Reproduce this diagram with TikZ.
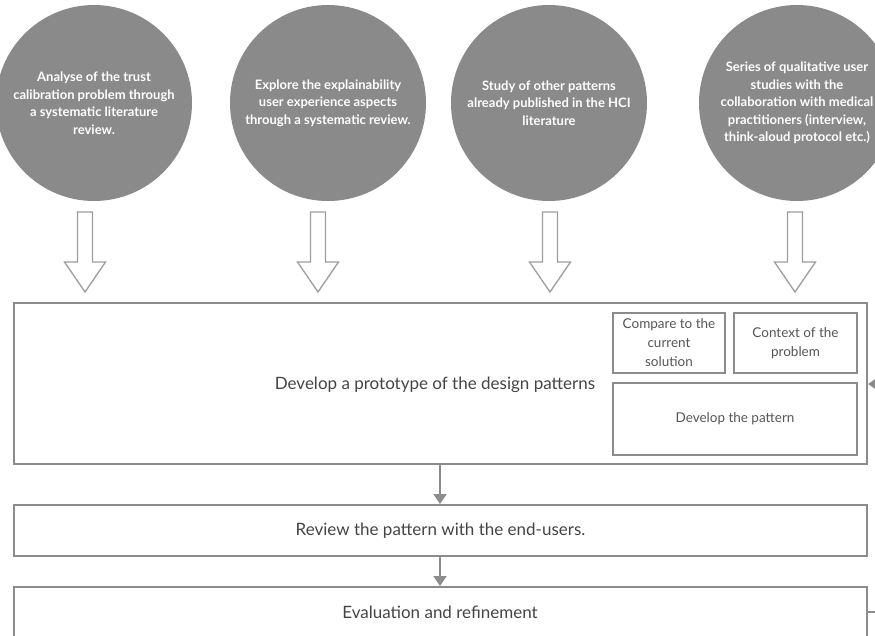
\documentclass[tikz,border=0pt]{standalone}
\usepackage{fontspec}
\setmainfont{Lato}
\usetikzlibrary{arrows.meta}
\definecolor{circgray}{HTML}{8A8A8A}
\definecolor{linegray}{HTML}{8C8C8C}
\definecolor{txtgray}{HTML}{444444}
\definecolor{lighttxt}{HTML}{555555}
\tikzset{
  bubble/.style={circle, fill=circgray, draw=none, minimum size=196pt, inner sep=0pt,
    text=white, align=center, font=\fontsize{13}{17.5}\selectfont\bfseries},
  bigbox/.style={rectangle, draw=linegray, line width=2pt, inner sep=0pt, text=txtgray,
    font=\fontsize{17}{20}\selectfont},
  bigtext/.style={text=txtgray, font=\fontsize{17}{20}\selectfont},
  smallbox/.style={rectangle, draw=linegray, line width=1.5pt, inner sep=0pt, text=lighttxt,
    align=center, font=\fontsize{13.5}{19}\selectfont},
  hollow/.style={draw=linegray!85, line width=1.3pt, fill=white, line join=miter},
  flow/.style={draw=linegray, line width=2pt, -{Triangle[length=10pt,width=13pt]}},
}
\begin{document}
\begin{tikzpicture}[x=1pt,y=-1pt]
\useasboundingbox (0,0) rectangle (875,635);
\clip (0,0) rectangle (875,635);
% circles
\node[bubble] (c1) at (94,103) {Analyse of the trust\\calibration problem through\\a systematic literature\\review.};
\node[bubble] (c2) at (328,103) {Explore the explainability\\user experience aspects\\through a systematic review.};
\node[bubble] (c3) at (549,103) {Study of other patterns\\already published in the HCI\\literature};
\node[bubble] (c4) at (797,103) {Series of qualitative user\\studies with the\\collaboration with medical\\practitioners (interview,\\think-aloud protocol etc.)};
% hollow arrows
\foreach \x in {85,318,550,795}{
  \draw[hollow] (\x-7.5,212) -- (\x+7.5,212) -- (\x+7.5,262) -- (\x+20.5,262) -- (\x,292)
     -- (\x-20.5,262) -- (\x-7.5,262) -- cycle;
}
% main box
\node[bigbox, minimum width=853pt, minimum height=161pt] (main) at (440.5,383.5) {};
\node[bigtext] (title) at (435,385) {Develop a prototype of the design patterns};
\node[smallbox, minimum width=112pt, minimum height=60pt] (cmp) at (669,343) {Compare to the\\current\\solution};
\node[smallbox, minimum width=123pt, minimum height=60pt] (ctx) at (795.5,343) {Context of the\\problem};
\node[smallbox, minimum width=244pt, minimum height=72pt] (dev) at (735,419) {Develop the pattern};
% review box
\node[bigbox, minimum width=853pt, minimum height=51pt] (rev) at (440.5,530.5) {Review the pattern with the end-users.};
% evaluation box
\node[bigbox, minimum width=853pt, minimum height=52pt, anchor=north] (eval) at (440.5,586) {};
\node[bigtext] (evt) at (440,612) {Evaluation and refinement};
% flow arrows
\draw[flow] (main.south -| 440,0) -- (rev.north -| 440,0);
\draw[flow] (rev.south -| 440,0) -- (eval.north -| 440,0);
% feedback loop
\coordinate (fbA) at (890,612);
\coordinate (fbB) at (890,384);
\draw[flow] (eval.east |- 0,612) -- (fbA) -- (fbB) -- (main.east |- 0,384);
\end{tikzpicture}
\end{document}
